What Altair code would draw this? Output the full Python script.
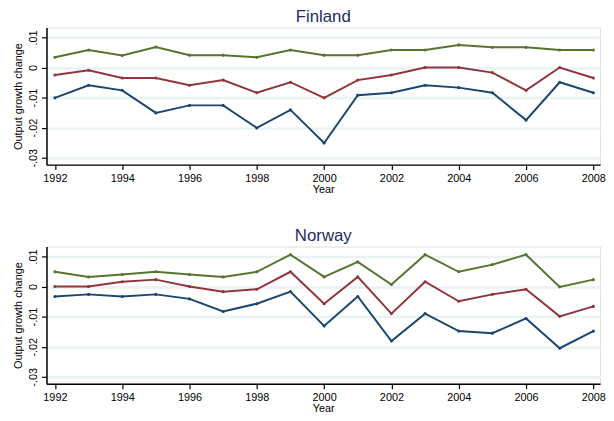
import altair as alt
import pandas as pd

years = list(range(1992, 2009))

fin_blue = [-0.0101, -0.0059, -0.0076, -0.0151, -0.0126, -0.0126, -0.0201, -0.0141, -0.0251,
            -0.0092, -0.0084, -0.0059, -0.0067, -0.0084, -0.0175, -0.0049, -0.0084]
fin_red = [-0.0025, -0.0009, -0.0035, -0.0035, -0.0059, -0.0042, -0.0084, -0.0049, -0.0101,
           -0.0042, -0.0025, 0.0000, 0.0000, -0.0017, -0.0076, 0.0000, -0.0035]
fin_green = [0.0034, 0.0058, 0.0040, 0.0068, 0.0041, 0.0041, 0.0034, 0.0058, 0.0041,
             0.0041, 0.0058, 0.0058, 0.0075, 0.0067, 0.0067, 0.0058, 0.0058]

nor_blue = [-0.0033, -0.0026, -0.0033, -0.0026, -0.0041, -0.0083, -0.0057, -0.0017, -0.0131,
            -0.0033, -0.0181, -0.0090, -0.0148, -0.0155, -0.0106, -0.0205, -0.0148]
nor_red = [0.0000, 0.0000, 0.0016, 0.0023, 0.0000, -0.0017, -0.0009, 0.0049, -0.0057,
           0.0032, -0.0090, 0.0016, -0.0049, -0.0026, -0.0009, -0.0099, -0.0066]
nor_green = [0.0049, 0.0032, 0.0040, 0.0049, 0.0040, 0.0032, 0.0049, 0.0106, 0.0032,
             0.0082, 0.0007, 0.0106, 0.0049, 0.0073, 0.0106, -0.0001, 0.0023]

series_names = ["low", "mid", "high"]
series_colors = ["#1a476f", "#90353b", "#55752f"]
x_ticks = list(range(1992, 2009, 2))
y_ticks = [-0.03, -0.02, -0.01, 0.0, 0.01]


def make_df(blue, red, green):
    rows = []
    for name, vals in zip(series_names, [blue, red, green]):
        for yr, v in zip(years, vals):
            rows.append({"Year": yr, "value": v, "series": name})
    return pd.DataFrame(rows)


FONT = "Liberation Sans"
ylabel_expr = ("datum.value == 0 ? '0' : (datum.value < 0 ? '-.0' : '.0') + "
               "round(abs(datum.value) * 100)")


def panel(title, df):
    x = alt.X("Year:Q",
              scale=alt.Scale(domain=[1991.75, 2008.2], nice=False, zero=False),
              axis=alt.Axis(values=x_ticks, format="d", grid=False, title="Year",
                            domainColor="black", domainWidth=1.5, tickColor="black",
                            tickWidth=1.2, tickSize=5, labelPadding=3,
                            labelFontSize=11, labelColor="black", labelFont=FONT,
                            titleFontSize=11, titleFont=FONT, titleFontWeight="normal",
                            titleColor="black", titlePadding=0, labelFlush=False))
    y = alt.Y("value:Q",
              scale=alt.Scale(domain=[-0.0323, 0.0133], nice=False, zero=False),
              axis=alt.Axis(values=y_ticks, labelExpr=ylabel_expr, grid=True,
                            gridColor="#eaf2f3", gridWidth=2.5,
                            title="Output growth change",
                            domainColor="black", domainWidth=1.5, tickColor="black",
                            tickWidth=1.2, tickSize=5, labelPadding=3,
                            labelAngle=270, labelAlign="center", labelBaseline="bottom",
                            labelFontSize=11, labelColor="black", labelFont=FONT,
                            titleFontSize=11, titleFont=FONT, titleFontWeight="normal",
                            titleColor="black", titlePadding=4))
    color = alt.Color("series:N",
                      scale=alt.Scale(domain=series_names, range=series_colors),
                      legend=None)
    base = alt.Chart(df)
    lines = base.mark_line(strokeWidth=2).encode(x=x, y=y, color=color, detail="series:N")
    pts = base.mark_point(filled=True, size=10, opacity=1).encode(x=x, y=y, color=color)
    return alt.layer(lines, pts).properties(
        width=561, height=139,
        title=alt.TitleParams(title, fontSize=17, font=FONT, fontWeight="normal",
                              color="#1e2c5c", offset=2),
    )


chart = alt.vconcat(
    panel("Finland", make_df(fin_blue, fin_red, fin_green)),
    panel("Norway", make_df(nor_blue, nor_red, nor_green)),
    spacing=31,
).properties(
    padding={"left": 4, "top": -4, "right": 0, "bottom": 0}
).configure_view(strokeWidth=0).configure(background="white")

chart.save("out.html", embed_options={"renderer": "svg", "actions": False})
